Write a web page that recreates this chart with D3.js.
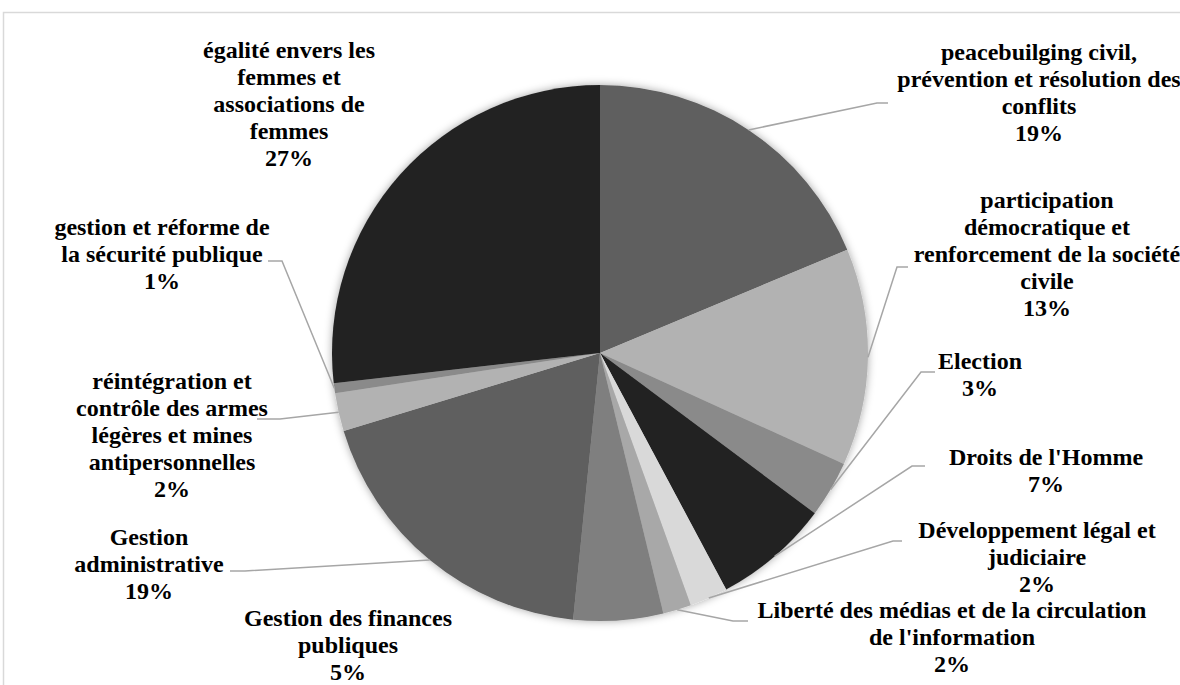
<!DOCTYPE html>
<html>
<head>
<meta charset="utf-8">
<script src="https://cdn.jsdelivr.net/npm/d3@7"></script>
<style>
  body { margin: 0; background: #fff; }
  svg { display: block; }
</style>
</head>
<body>
<svg id="chart" width="1180" height="685"></svg>
<script>
// categories, clockwise from 12 o'clock
const categories = [
  "peacebuilging civil, prévention et résolution des conflits",
  "participation démocratique et renforcement de la société civile",
  "Election",
  "Droits de l'Homme",
  "Développement légal et judiciaire",
  "Liberté des médias et de la circulation de l'information",
  "Gestion des finances publiques",
  "Gestion administrative",
  "réintégration et contrôle des armes légères et mines antipersonnelles",
  "gestion et réforme de la sécurité publique",
  "égalité envers les femmes et associations de femmes"
];
// share of total (%)
const values = [18.7, 13.1, 3.4, 7.0, 2.3, 1.7, 5.4, 18.7, 2.3, 0.6, 26.8];
// label text as wrapped in the chart
const labelLines = [
  ["peacebuilging civil,", "prévention et résolution des", "conflits"],
  ["participation", "démocratique et", "renforcement de la société", "civile"],
  ["Election"],
  ["Droits de l'Homme"],
  ["Développement légal et", "judiciaire"],
  ["Liberté des médias et de la circulation", "de l'information"],
  ["Gestion des finances", "publiques"],
  ["Gestion", "administrative"],
  ["réintégration et", "contrôle des armes", "légères et mines", "antipersonnelles"],
  ["gestion et réforme de", "la sécurité publique"],
  ["égalité envers les", "femmes et", "associations de", "femmes"]
];
const sliceColors = ["#5f5f5f", "#b2b2b2", "#8a8a8a", "#232323", "#d9d9d9", "#a8a8a8",
                     "#7f7f7f", "#5f5f5f", "#b2b2b2", "#8a8a8a", "#232323"];

// layout: label centre x, last baseline y; leader elbow and end (null = no leader)
const labelLayout = [
  { x: 1039, y: 141, elbow: [877, 103], end: 888 },
  { x: 1047, y: 316, elbow: [897, 267], end: 908 },
  { x: 980,  y: 396, elbow: [921, 372], end: 935 },
  { x: 1046, y: 492, elbow: [912, 466], end: 925 },
  { x: 1037, y: 592, elbow: [893, 541], end: 902 },
  { x: 952,  y: 672, elbow: [733, 621], end: 748 },
  { x: 348,  y: 680, elbow: null },
  { x: 149,  y: 599, elbow: [245, 571], end: 230 },
  { x: 172,  y: 497, elbow: [280, 419], end: 257 },
  { x: 162,  y: 289, elbow: [282, 261], end: 268 },
  { x: 289,  y: 166, elbow: null }
];

const width = 1180, height = 685;
const cx = 600, cy = 353, radius = 268;
const lineGap = 27;
const serif = "'Liberation Serif', 'Times New Roman', Times, 'DejaVu Serif', serif";

const svg = d3.select("#chart");

// outer frame, only top and left edges visible
svg.append("rect")
  .attr("x", 3.5).attr("y", 12.5)
  .attr("width", width + 20).attr("height", height + 20)
  .attr("fill", "none")
  .attr("stroke", "#d9d9d9")
  .attr("stroke-width", 1.5);

const defs = svg.append("defs");
const glow = defs.append("filter").attr("id", "glow")
  .attr("x", "-10%").attr("y", "-10%").attr("width", "120%").attr("height", "120%");
glow.append("feGaussianBlur").attr("in", "SourceAlpha").attr("stdDeviation", 4).attr("result", "b");
glow.append("feFlood").attr("flood-color", "#000").attr("flood-opacity", 0.35);
glow.append("feComposite").attr("in2", "b").attr("operator", "in").attr("result", "s");
const merge = glow.append("feMerge");
merge.append("feMergeNode").attr("in", "s");
merge.append("feMergeNode").attr("in", "SourceGraphic");

const data = categories.map((c, i) => ({ name: c, value: values[i], color: sliceColors[i], i }));

const pie = d3.pie().value(d => d.value).sort(null);
const arcs = pie(data);
const arc = d3.arc().innerRadius(0).outerRadius(radius);

const g = svg.append("g").attr("transform", `translate(${cx},${cy})`);
g.append("g").attr("filter", "url(#glow)")
  .selectAll("path")
  .data(arcs)
  .join("path")
  .attr("d", arc)
  .attr("fill", d => d.data.color);

// leader lines
const leaders = svg.append("g")
  .attr("fill", "none")
  .attr("stroke", "#a6a6a6")
  .attr("stroke-width", 1.5);

arcs.forEach((a, i) => {
  const lay = labelLayout[i];
  if (!lay.elbow) return;
  const mid = (a.startAngle + a.endAngle) / 2;
  const px = cx + radius * Math.sin(mid);
  const py = cy - radius * Math.cos(mid);
  leaders.append("polyline")
    .attr("points", [[px, py], lay.elbow, [lay.end, lay.elbow[1]]].map(p => p.join(",")).join(" "));
});

// labels
const fmt = d3.format(".0f");
const labels = svg.append("g")
  .attr("font-family", serif)
  .attr("font-weight", "bold")
  .attr("font-size", 24)
  .attr("fill", "#000");
arcs.forEach((a, i) => {
  const lay = labelLayout[i];
  const lines = labelLines[i].concat([fmt(a.data.value) + "%"]);
  const t = labels.append("text")
    .attr("text-anchor", "middle");
  const first = lay.y - (lines.length - 1) * lineGap;
  lines.forEach((l, k) => {
    t.append("tspan").attr("x", lay.x).attr("y", first + k * lineGap).text(l);
  });
});
</script>
</body>
</html>
